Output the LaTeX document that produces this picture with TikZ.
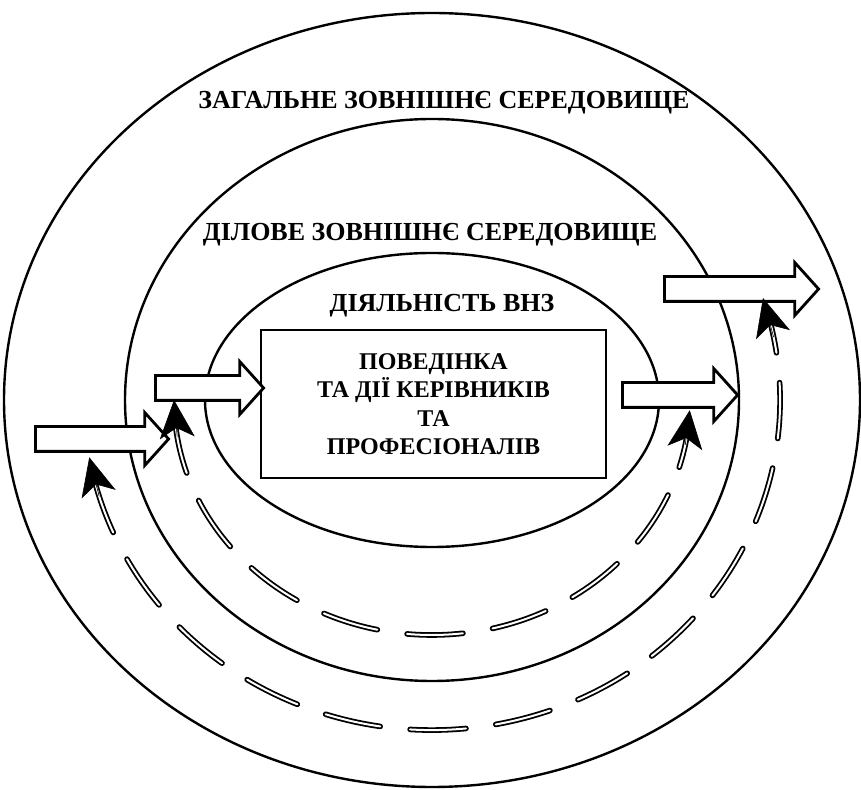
\documentclass[tikz,border=0pt]{standalone}
\usepackage{fontspec}
\setmainfont{Liberation Serif}
\usetikzlibrary{arrows.meta,shapes.arrows}

\tikzset{
  ring/.style={line width=2.4pt},
  flowarrow/.style={single arrow, draw, fill=white, line width=2.8pt,
    inner xsep=0pt, inner ysep=11pt, single arrow head extend=14pt,
    single arrow tip angle=96},
  road/.style={double=white, draw=black, line width=1.8pt, double distance=2pt,
    line cap=round, dash pattern=on 56pt off 30pt},
  roadtip/.style={line width=0.6pt, -{Stealth[length=38pt,width=35pt,inset=10pt]}},
  envtext/.style={font=\fontsize{26}{29}\selectfont\bfseries, align=center},
  boxtext/.style={font=\fontsize{24}{28.5}\selectfont\bfseries, align=center}
}

\begin{document}
\begin{tikzpicture}[x=1pt,y=1pt]
\useasboundingbox (0,0) rectangle (861,789);
\coordinate (c) at (432,389);
% environments
\draw[ring] (c) ellipse [x radius=428, y radius=387];
\draw[ring] (c) ellipse [x radius=307, y radius=281];
\draw[ring] (c) ellipse [x radius=227, y radius=147];
\node[envtext] (general) at (444,686) {ЗАГАЛЬНЕ ЗОВНІШНЄ СЕРЕДОВИЩЕ};
\node[envtext] (business) at (430,554) {ДІЛОВЕ ЗОВНІШНЄ СЕРЕДОВИЩЕ};
\node[envtext] (activity) at (442,483) {ДІЯЛЬНІСТЬ ВНЗ};
\node[boxtext, draw, line width=1.2pt, minimum width=345pt, minimum height=148pt]
  (people) at (433.5,385) {ПОВЕДІНКА\\ТА ДІЇ КЕРІВНИКІВ\\ТА\\ПРОФЕСІОНАЛІВ};

% flows in and out
\node[flowarrow, minimum height=133pt] (in1) at (96.5,350) {};
\node[flowarrow, minimum height=108pt] (in2) at (204,401) {};
\node[flowarrow, minimum height=115pt] (out1) at (674.5,394) {};
\node[flowarrow, minimum height=154pt] (out2) at (736,500) {};

% outer road
\path (c) ++(197:348 and 330) coordinate (ra1);
\path (c) ++(190:348 and 330) coordinate (ra0);
\path (c) ++(11:348 and 330) coordinate (rb1);
\path (c) ++(18:348 and 330) coordinate (rb0);
\path (c) ++(194:348 and 330) coordinate (ras);
\draw[road] (ras) arc[start angle=194, end angle=374, x radius=348, y radius=330];
\draw[roadtip] (ra1) -- (ra0);
\draw[roadtip] (rb1) -- (rb0);

% inner road
\path (c) ++(189:258 and 235) coordinate (sa1);
\path (c) ++(180:258 and 235) coordinate (sa0);
\path (c) ++(349:258 and 235) coordinate (sb1);
\path (c) ++(357.5:258 and 235) coordinate (sb0);
\path (c) ++(184.5:258 and 235) coordinate (sas);
\draw[road] (sas) arc[start angle=184.5, end angle=353, x radius=258, y radius=235];
\draw[roadtip] (sa1) -- (sa0);
\draw[roadtip] (sb1) -- (sb0);
\end{tikzpicture}
\end{document}
